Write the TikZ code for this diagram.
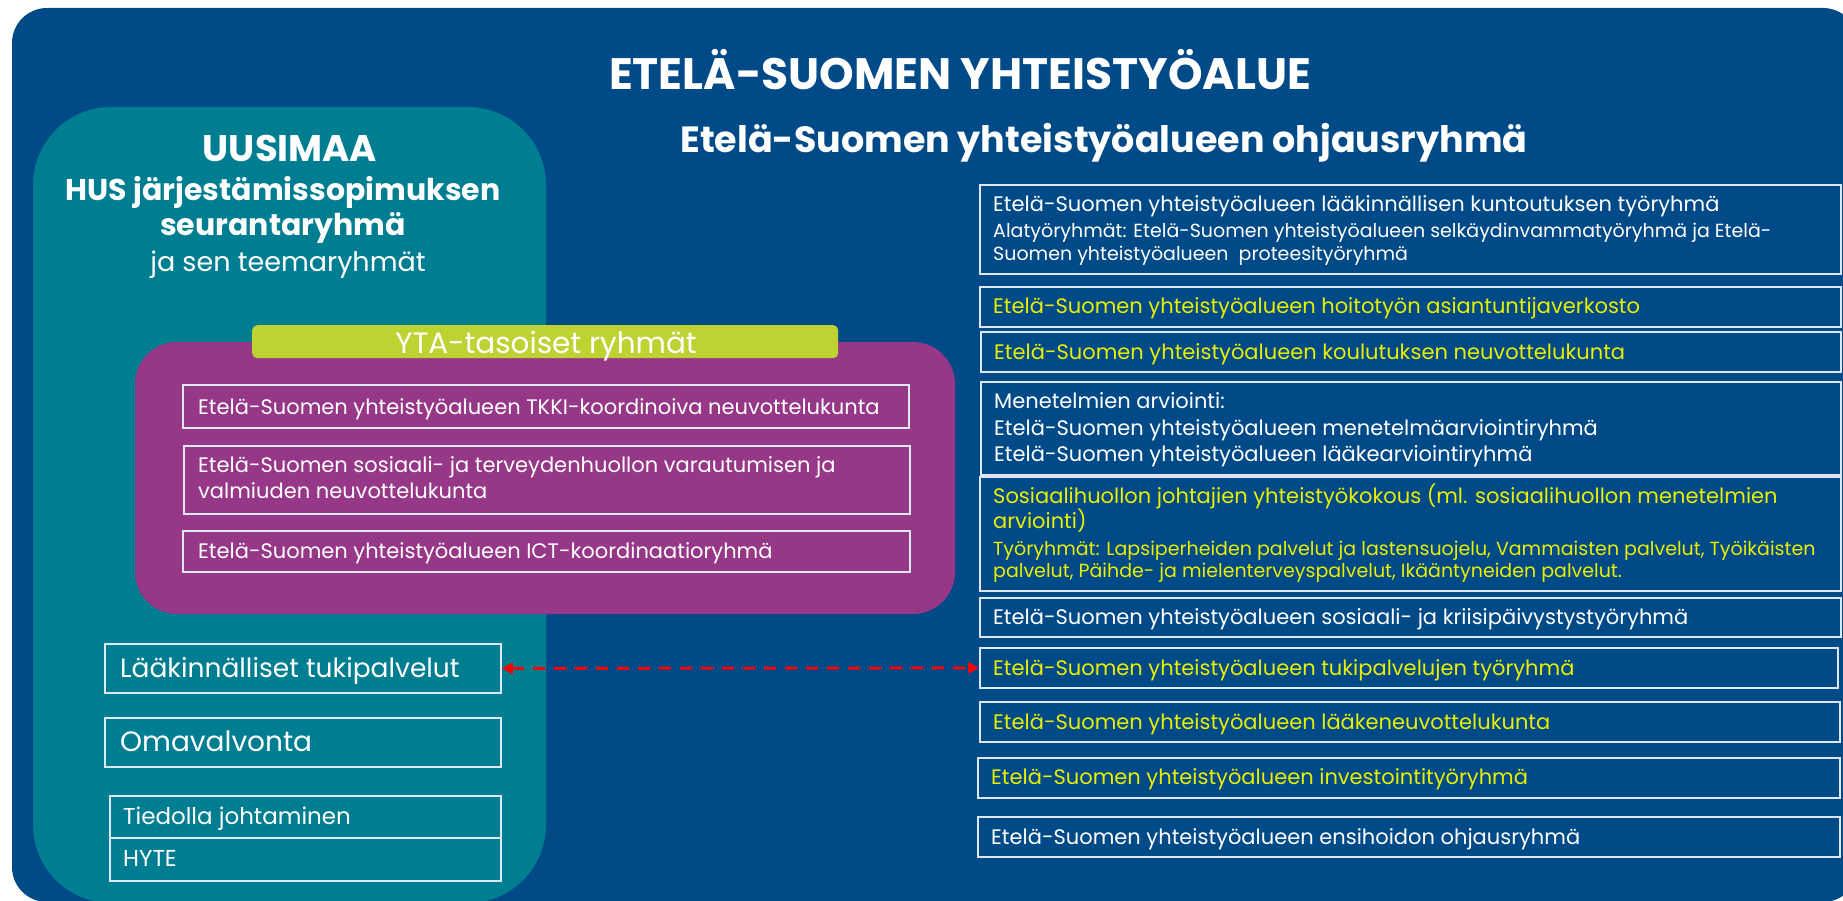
\documentclass[tikz,border=0pt]{standalone}
\usepackage{fontspec}
\setmainfont{Poppins}
\usetikzlibrary{arrows.meta}
\definecolor{bgblue}{RGB}{0,74,135}
\definecolor{uteal}{RGB}{0,126,145}
\definecolor{upurple}{RGB}{150,55,135}
\definecolor{ugreen}{RGB}{190,210,50}
\definecolor{uyellow}{RGB}{232,240,0}
\definecolor{uline}{RGB}{222,232,242}
\definecolor{ured}{RGB}{255,0,0}
\tikzset{
  frame/.style={draw=uline, line width=1.8pt, anchor=north west, inner sep=0pt},
  tx/.style={inner sep=0pt, anchor=base west, text=white, font=\fontsize{21}{26}\selectfont},
  ytx/.style={tx, text=uyellow},
  subtx/.style={font=\fontsize{19}{23}\selectfont},
  bigtx/.style={font=\fontsize{26.5}{32}\selectfont},
  midtx/.style={font=\fontsize{23}{28}\selectfont},
  head/.style={inner sep=0pt, anchor=base, text=white},
  link/.style={draw=ured, line width=3pt, dash pattern=on 12pt off 9pt,
    {Triangle[length=11pt,width=11pt]}-{Triangle[length=11pt,width=11pt]}}
}
\begin{document}
\begin{tikzpicture}[x=1pt,y=-1pt]
\useasboundingbox (0,0) rectangle (1843,901);
\clip (0,0) rectangle (1843,901);
\fill[white] (0,0) rectangle (1843,901);
% outer area
\fill[bgblue, rounded corners=35pt] (12,8) rectangle (1858,902);
% teal region
\fill[uteal, rounded corners=78pt] (33,107) rectangle (546,903);
% purple region
\fill[upurple, rounded corners=42pt] (135,342) rectangle (955,614);
% green bar
\node[fill=ugreen, rounded corners=5pt, anchor=north west, inner sep=0pt,
  minimum width=586pt, minimum height=33pt] (yta) at (252,325) {};
\node[head, font=\fontsize{29.5}{35}\selectfont] at (546,353) {YTA-tasoiset ryhmät};

% headings
\node[head, font=\fontsize{44}{52}\bfseries\selectfont] (title) at (960,90) {ETELÄ-SUOMEN YHTEISTYÖALUE};
\node[head, font=\fontsize{36.5}{44}\bfseries\selectfont] (subtitle) at (1104,153) {Etelä-Suomen yhteistyöalueen ohjausryhmä};
\node[head, font=\fontsize{37}{44}\bfseries\selectfont] (uusimaa) at (290,162) {UUSIMAA};
\node[head, font=\fontsize{30}{36}\bfseries\selectfont] at (283,201) {HUS järjestämissopimuksen};
\node[head, font=\fontsize{30}{36}\bfseries\selectfont] at (283,236) {seurantaryhmä};
\node[head, font=\fontsize{27}{32}\selectfont] at (288,271) {ja sen teemaryhmät};

% purple boxes
\node[frame, minimum width=726pt, minimum height=43pt] (p1) at (182,384) {};
\node[tx] at (198,414) {Etelä-Suomen yhteistyöalueen TKKI-koordinoiva neuvottelukunta};
\node[frame, minimum width=726pt, minimum height=68pt] (p2) at (183,445) {};
\node[tx] at (198,472) {Etelä-Suomen sosiaali- ja terveydenhuollon varautumisen ja};
\node[tx] at (198,498) {valmiuden neuvottelukunta};
\node[frame, minimum width=727pt, minimum height=41pt] (p3) at (182,530) {};
\node[tx] at (198,558) {Etelä-Suomen yhteistyöalueen ICT-koordinaatioryhmä};

% left boxes
\node[frame, minimum width=396pt, minimum height=49pt] (l1) at (104,643) {};
\node[tx, bigtx] at (120,677) {Lääkinnälliset tukipalvelut};
\node[frame, minimum width=396pt, minimum height=49pt] (l2) at (104,717) {};
\node[tx, bigtx, font=\fontsize{28}{32}\selectfont] at (120,751) {Omavalvonta};
\node[frame, minimum width=391pt, minimum height=42pt] (l3) at (109,795) {};
\node[tx, midtx] at (123,824.5) {Tiedolla johtaminen};
\node[frame, minimum width=391pt, minimum height=43pt] (l4) at (109,837) {};
\node[tx, midtx] at (123,866.5) {HYTE};

% right boxes
\node[frame, minimum width=861pt, minimum height=89pt] (r1) at (979,184) {};
\node[tx] at (993,212) {Etelä-Suomen yhteistyöalueen lääkinnällisen kuntoutuksen työryhmä};
\node[tx, subtx] at (993,237) {Alatyöryhmät: Etelä-Suomen yhteistyöalueen selkäydinvammatyöryhmä ja Etelä-};
\node[tx, subtx] at (993,260) {Suomen yhteistyöalueen\ \ proteesityöryhmä};

\node[frame, minimum width=861pt, minimum height=40pt] (r2) at (979,286) {};
\node[ytx] at (993,313) {Etelä-Suomen yhteistyöalueen hoitotyön asiantuntijaverkosto};

\node[frame, minimum width=860pt, minimum height=40pt] (r3) at (980,331) {};
\node[ytx] at (994,359) {Etelä-Suomen yhteistyöalueen koulutuksen neuvottelukunta};

\node[frame, minimum width=860pt, minimum height=93pt] (r4) at (980,381) {};
\node[tx] at (994,408) {Menetelmien arviointi:};
\node[tx] at (994,435) {Etelä-Suomen yhteistyöalueen menetelmäarviointiryhmä};
\node[tx] at (994,461) {Etelä-Suomen yhteistyöalueen lääkearviointiryhmä};

\node[frame, minimum width=861pt, minimum height=114pt] (r5) at (979,476) {};
\node[ytx] at (993,503) {Sosiaalihuollon johtajien yhteistyökokous (ml. sosiaalihuollon menetelmien};
\node[ytx] at (993,528) {arviointi)};
\node[ytx, subtx] at (993,555) {Työryhmät: Lapsiperheiden palvelut ja lastensuojelu, Vammaisten palvelut, Työikäisten};
\node[ytx, subtx] at (993,577) {palvelut, Päihde- ja mielenterveyspalvelut, Ikääntyneiden palvelut.};

\node[frame, minimum width=861pt, minimum height=39pt] (r6) at (979,597) {};
\node[tx] at (993,624.5) {Etelä-Suomen yhteistyöalueen sosiaali- ja kriisipäivystystyöryhmä};

\node[frame, minimum width=858pt, minimum height=40pt] (r7) at (979,647) {};
\node[ytx] at (993,675) {Etelä-Suomen yhteistyöalueen tukipalvelujen työryhmä};

\node[frame, minimum width=860pt, minimum height=40pt] (r8) at (979,701) {};
\node[ytx] at (993,729) {Etelä-Suomen yhteistyöalueen lääkeneuvottelukunta};

\node[frame, minimum width=862pt, minimum height=40pt] (r9) at (977,757) {};
\node[ytx] at (991,784) {Etelä-Suomen yhteistyöalueen investointityöryhmä};

\node[frame, minimum width=862pt, minimum height=40pt] (r10) at (977,816) {};
\node[tx] at (991,844) {Etelä-Suomen yhteistyöalueen ensihoidon ohjausryhmä};

% connector
\draw[link] (l1.east) -- (r7.west);
\end{tikzpicture}
\end{document}
